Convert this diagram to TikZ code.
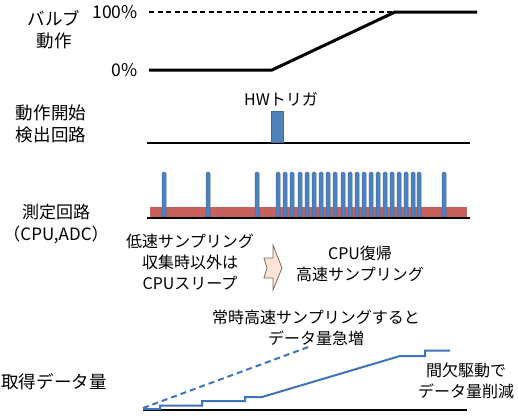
\documentclass[tikz,border=0pt]{standalone}
\usepackage{fontspec}
\setmainfont{Noto Sans CJK JP}
\definecolor{pulseblue}{HTML}{4F81BD}
\definecolor{pulseedge}{HTML}{3C6BA8}
\definecolor{datablue}{HTML}{3F74BA}
\definecolor{barred}{HTML}{C0504D}
\definecolor{arrowfill}{HTML}{FCE4D6}
\definecolor{arrowedge}{HTML}{7F6A5E}
\tikzset{
  lbl/.style={font=\fontsize{16}{21}\selectfont, align=center, inner sep=0pt},
  biglbl/.style={font=\fontsize{17.5}{22}\selectfont, align=center, inner sep=0pt},
  valveline/.style={line width=3pt},
  baseline/.style={line width=2pt},
  pulse/.style={fill=pulseblue, draw=pulseedge, line width=0.5pt, rounded corners=1.5pt},
  dataline/.style={datablue, line width=2pt},
}
\begin{document}
\begin{tikzpicture}[x=1pt,y=-1pt]
\useasboundingbox (0,0) rectangle (518,415);
% valve section
\node[biglbl] (valve) at (54,30) {バルブ\\動作};
\node[biglbl, anchor=east] (p100) at (138,12) {100\%};
\node[biglbl, anchor=east] (p0) at (138,70) {0\%};
\coordinate (v0) at (149,70);
\coordinate (v1) at (272,70);
\coordinate (v2) at (395,12);
\coordinate (v3) at (477,12);
\coordinate (d0) at (149,12);
\draw[line width=1.5pt, dash pattern=on 5pt off 3.5pt] (d0) -- (v2);
\draw[valveline] (v0) -- (v1) -- (v2) -- (v3);
% trigger section
\node[biglbl] (start) at (51,124) {動作開始\\検出回路};
\node[lbl] (hw) at (281,99) {HWトリガ};
\draw[baseline] (147,143) -- (470,143);
\node[pulse, minimum width=12pt, minimum height=31pt, inner sep=0pt, rounded corners=0pt, anchor=south] (trig) at (277.5,142) {};
% measurement section
\node[biglbl, font=\fontsize{17}{22}\selectfont] (meas) at (56,224) {測定回路\\（CPU,ADC）};
\fill[barred, opacity=0.9] (150,207) rectangle (467,217);
\foreach \px in {164,208,257,278,285,292,300,307,314,321,328,335,343,350,357,364,371,378,385,392,399,406,413,419,444}{
  \draw[pulse] (\px-2,217.5) rectangle (\px+2,172);
}
\draw[baseline] (147,218) -- (470,218);
% explanation
\node[lbl] (slow) at (190,262) {低速サンプリング\\収集時以外は\\CPUスリープ};
\node[lbl] (fast) at (360,264) {CPU復帰\\高速サンプリング};
\draw[fill=arrowfill, draw=arrowedge, line width=0.8pt]
  (264,258) -- (273,258) -- (273,245) -- (282,268) -- (273,290) -- (273,278) -- (264,278) -- (267,268) -- cycle;
% data amount section
\node[biglbl] (amount) at (54,382) {取得データ量};
\node[lbl] (always) at (316,328) {常時高速サンプリングすると\\データ量急増};
\node[lbl] (inter) at (466,381) {間欠駆動で\\データ量削減};
\draw[baseline] (143,410) -- (467,410);
\draw[dataline, dashed, dash pattern=on 6pt off 4pt] (143,408) -- (311,346);
\draw[dataline] (143,409) -- (160,409) -- (160,405.5) -- (202,405.5) -- (202,401) -- (245,401) -- (245,397) -- (262,397) -- (400,356) -- (425,356) -- (425,350.5) -- (450,350.5);
\end{tikzpicture}
\end{document}
